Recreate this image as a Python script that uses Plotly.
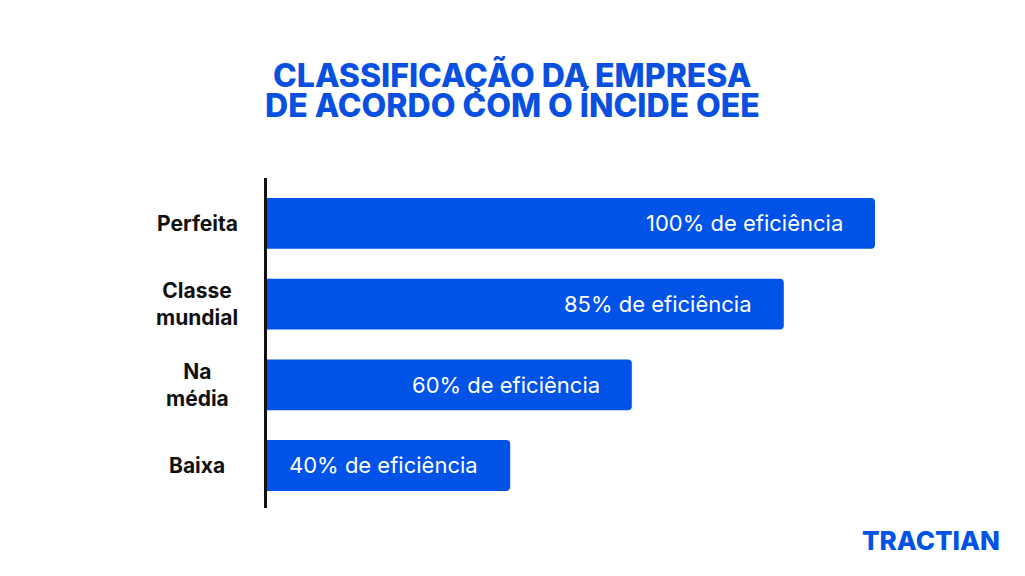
import plotly.graph_objects as go

categories = ["Baixa", "Na média", "Classe mundial", "Perfeita"]
tick_labels = ["Baixa", "Na<br>média", "Classe<br>mundial", "Perfeita"]
values = [40, 60, 85, 100]
bar_text = [f"{v}% de eficiência" for v in values]
title_lines = ["CLASSIFICAÇÃO DA EMPRESA", "DE ACORDO COM O ÍNCIDE OEE"]
brand = "TRACTIAN"

BLUE = "#0152E6"
TITLE_BLUE = "#0A50E0"
FONT = "Inter"

W, H = 1025, 576
OFF = 8  # page body margin
L, T, PW, PH = 267 - OFF, 178 - OFF, 608, 330
R = W - L - PW
B = H - T - PH


def px_x(x):
    return (x - OFF - L) / PW


def px_y(y):
    return (T + PH - (y - OFF)) / PH


fig = go.Figure(
    go.Bar(
        x=values,
        y=categories,
        orientation="h",
        marker=dict(color=BLUE, line=dict(width=0)),
        width=0.63,
        hoverinfo="skip",
    )
)

annotations = []
for cat, lab in zip(categories, tick_labels):
    annotations.append(dict(
        x=px_x(197), xref="paper", y=cat, yref="y", text=lab, showarrow=False,
        xanchor="center", yanchor="middle", align="center",
        font=dict(family=FONT, size=21, color="#111111", weight=700),
    ))
for cat, v, t in zip(categories, values, bar_text):
    annotations.append(dict(
        x=v, xref="x", y=cat, yref="y", text=t, showarrow=False,
        xanchor="right", yanchor="middle", xshift=-30,
        font=dict(family=FONT, size=22, color="white", weight=400),
    ))
for i, line in enumerate(title_lines):
    annotations.append(dict(
        x=px_x(512), xref="paper", y=px_y(75 + 30 * i), yref="paper",
        text=line, showarrow=False, xanchor="center", yanchor="middle",
        font=dict(family=FONT, size=32, color=TITLE_BLUE, weight=800),
    ))
annotations.append(dict(
    x=px_x(931), xref="paper", y=px_y(540), yref="paper",
    text=brand, showarrow=False, xanchor="center", yanchor="middle",
    font=dict(family=FONT, size=26, color=BLUE, weight=800),
))

fig.update_layout(
    width=W, height=H,
    margin=dict(l=L, r=R, t=T, b=B, autoexpand=False),
    paper_bgcolor="white", plot_bgcolor="white",
    barcornerradius=4,
    showlegend=False,
    xaxis=dict(range=[0, 100], visible=False, fixedrange=True),
    yaxis=dict(
        categoryorder="array", categoryarray=categories,
        range=[-0.527, 3.563], showticklabels=False, ticks="",
        showgrid=False, zeroline=False,
        showline=True, linecolor="#111111", linewidth=3, fixedrange=True,
    ),
    annotations=annotations,
)

fig.write_html("out.html", config={"displayModeBar": False})
